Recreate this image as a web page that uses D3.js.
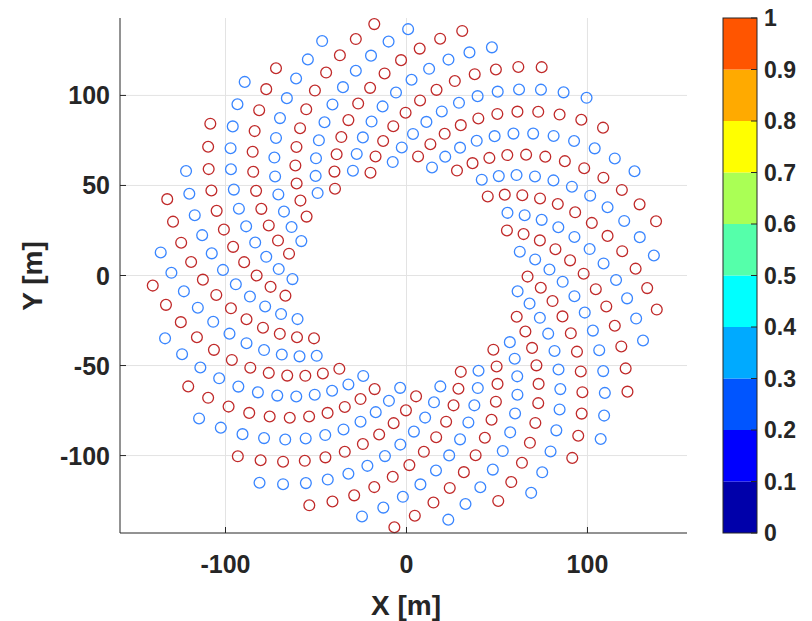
<!DOCTYPE html>
<html><head><meta charset="utf-8">
<script src="https://cdn.jsdelivr.net/npm/d3@7"></script>
<style>body{margin:0;background:#fff}text{font-family:"Liberation Sans",Arial,sans-serif;font-weight:bold;fill:#262626}</style>
</head><body><svg id="c" width="812" height="621"></svg>
<script>
// Field layout positions [m], red series
const redX=[-19.9,55.5,30.0,-51.1,-39.5,44.9,48.0,-37.1,-55.2,27.9,60.9,-17.6,-64.9,6.4,66.9,5.3,-66.9,-17.1,64.7,28.7,-60.5,-39.8,54.3,49.8,-46.2,-58.6,36.5,65.7,-25.4,-71.0,13.2,74.2,-0.3,-75.1,-12.9,73.7,26.0,-70.0,-38.6,64.0,50.3,-55.9,-60.7,45.8,69.4,-34.1,-76.1,21.1,80.7,-7.1,-82.8,-7.3,82.3,21.9,-79.3,-36.0,73.8,49.4,-65.9,-61.4,55.7,71.8,-43.6,-80.2,30.0,86.2,-15.1,-89.7,-0.5,90.4,16.4,-88.4,-32.1,83.6,47.0,-76.1,-60.8,66.1,73.0,-53.8,-83.1,39.7,90.8,-24.1,-95.8,7.5,97.9,9.6,-97.0,-26.7,93.2,43.3,-86.3,-58.8,76.7,72.8,-64.5,-84.7,50.2,94.2,-34.1,-100.9,16.6,104.6,1.6,-105.1,-20.1,102.4,38.2,-96.5,-55.4,87.5,71.2,-75.6,-85.0,61.3,96.3,-44.8,-104.9,26.7,110.4,-7.6,-112.5,-12.1,111.1,31.7,-106.4,-50.6,98.2,68.2,-86.9,-83.9,72.8,97.2,-56.2,-107.8,37.7,115.1,-17.8,-119.0,-3.0,119.2,23.9,-115.8,-44.4,108.8,63.8,-98.3,-81.4,84.6,96.8,-68.2,-109.3,49.4,118.7,-28.9,-124.5,7.3,126.6,14.9,-124.7,-36.8,119.0,57.9,-109.6,-77.5,96.6,94.9,-80.6,-109.6,61.8,121.1,-40.9,-129.0,18.6,133.0,4.6,-132.9,-28.0,128.8,50.7,-120.6,-72.1,108.6,91.6,-93.2,-108.4,74.7,122.1,-53.7,-132.2,30.8,138.3,-6.7,-140.2,-17.8,137.9];
const redY=[57.1,25.0,-53.5,-34.9,48.2,43.9,-41.2,-51.8,32.7,58.3,-22.9,-63.1,12.1,66.1,-0.6,-67.1,-11.2,66.1,23.0,-62.9,-34.3,57.7,44.9,-50.5,-54.4,41.6,62.4,-31.1,-68.6,19.4,72.9,-6.8,-74.9,-6.3,74.7,19.5,-72.1,-32.4,67.3,44.6,-60.2,-55.7,51.1,65.3,-40.2,-73.0,27.8,78.7,-14.2,-82.0,0.0,82.9,14.6,-81.2,-29.0,76.9,42.8,-70.1,-55.6,61.1,66.9,-49.9,-76.3,37.0,83.5,-22.7,-88.3,7.4,90.4,8.4,-89.8,-24.3,86.3,39.7,-80.1,-54.1,71.4,67.1,-60.2,-78.3,47.0,87.2,-32.1,-93.6,15.9,97.2,1.0,-97.9,-18.2,95.5,35.1,-90.1,-51.2,81.8,66.0,-70.9,-79.0,57.6,89.7,-42.3,-97.9,25.5,103.1,-7.6,-105.3,-10.8,104.2,29.2,-99.8,-46.9,92.3,63.5,-81.9,-78.3,68.7,91.0,-53.3,-101.0,35.9,108.0,-17.2,-111.8,-2.3,112.2,22.0,-109.2,-41.3,102.7,59.6,-92.9,-76.3,80.2,90.9,-64.8,-102.9,47.2,111.8,-27.9,-117.5,7.5,119.6,13.5,-118.0,-34.3,112.7,54.3,-104.0,-72.8,91.8,89.4,-76.7,-103.4,59.1,114.4,-39.4,-122.1,18.2,126.0,3.8,-126.1,-25.9,122.3,47.5,-114.7,-67.9,103.5,86.5,-89.0,-102.6,71.5,115.8,-51.6,-125.5,29.9,131.5,-7.0,-133.4,-16.3,131.3,39.5,-125.2,-61.6,115.1,82.1,-101.3,-100.4,84.3,115.7,-64.5,-127.6,42.4,135.8,-18.9,-139.8,-5.6,139.6,30.1];
// blue series
const blueX=[-23.9,-58.1,14.1,61.4,-3.5,-63.0,-7.6,62.6,18.7,-60.2,-29.6,55.8,39.8,-49.6,-49.1,41.6,57.1,-32.1,-63.5,21.4,68.0,-9.7,-70.6,-2.6,71.1,15.2,-69.3,-27.5,65.3,39.4,-59.1,-50.2,51.0,59.8,-41.1,-67.7,29.6,73.7,-17.0,-77.5,3.6,79.0,10.3,-78.1,-24.1,74.7,37.5,-68.9,-50.0,60.8,61.2,-50.7,-70.8,38.8,78.3,-25.4,-83.6,11.0,86.3,4.1,-86.5,-19.3,83.9,34.2,-78.7,-48.4,71.0,61.3,-60.9,-72.6,48.7,81.8,-34.8,-88.6,19.5,92.8,-3.4,-94.3,-13.2,92.8,29.6,-88.4,-45.3,81.2,60.0,-71.4,-73.0,59.1,84.0,-44.9,-92.6,29.0,98.5,-11.9,-101.4,-5.8,101.2,23.6,-97.8,-40.9,91.4,57.3,-82.1,-72.1,70.0,85.0,-55.7,-95.4,39.3,103.0,-21.6,-107.6,2.8,108.9,16.3,-106.8,-35.1,101.5,53.2,-92.9,-69.9,81.3,84.6,-67.0,-97.0,50.4,106.5,-32.1,-112.9,12.5,115.8,7.7,-115.3,-28.0,111.1,47.7,-103.5,-66.1,92.6,82.8,-78.7,-97.2,62.2,108.7,-43.5,-117.0,23.2,121.9,-2.0,-123.0,-19.6,120.3,40.8,-113.9,-61.0,104.0,79.6,-90.6,-96.0,74.3,109.6,-55.6,-120.0,34.8,126.9,-12.8,-129.9,-9.9,128.9,32.6,-124.0,-54.5,115.1,75.0,-102.6,-93.4,86.8,109.2,-68.2,-121.8,47.2,130.7,-24.6,-135.8,0.9,136.7,23.1,-133.4,-46.6,126.0,68.9,-114.6,-89.4,99.5,107.3,-81.2];
const blueY=[-55.8,19.1,60.0,-8.8,-62.4,-2.0,63.0,13.2,-61.6,-24.2,58.2,34.8,-52.9,-44.6,45.8,53.2,-37.0,-60.5,26.9,66.0,-15.6,-69.6,3.6,71.1,8.9,-70.4,-21.4,67.5,33.5,-62.5,-44.9,55.3,55.2,-46.2,-64.0,35.5,71.0,-23.5,-75.9,10.4,78.6,3.3,-78.9,-17.2,76.7,30.9,-72.1,-43.9,65.1,55.8,-56.0,-66.2,45.0,74.8,-32.3,-81.2,18.3,85.3,-3.5,-86.7,-11.7,85.5,26.8,-81.6,-41.4,75.1,55.0,-66.2,-67.2,55.0,77.4,-41.9,-85.5,27.3,91.1,-11.5,-93.9,-4.9,93.9,21.4,-91.0,-37.6,85.1,52.8,-76.6,-66.7,65.5,78.8,-52.2,-88.6,37.1,95.9,-20.6,-100.3,3.1,101.6,14.7,-99.9,-32.3,95.0,49.3,-87.1,-64.9,76.4,78.8,-63.1,-90.5,47.7,99.6,-30.6,-105.7,12.3,108.7,6.7,-108.3,-25.7,104.6,44.3,-97.5,-61.7,87.4,77.5,-74.4,-91.1,59.0,102.1,-41.5,-110.1,22.4,114.8,-2.5,-116.0,-17.9,113.7,37.9,-107.8,-57.1,98.5,74.7,-86.0,-90.3,70.7,103.3,-53.1,-113.3,33.5,119.9,-12.7,-122.9,-8.8,122.1,30.3,-117.6,-51.1,109.4,70.6,-97.7,-88.1,82.8,103.2,-65.2,-115.3,45.4,123.9,-23.9,-128.9,1.5,129.9,21.3,-126.9,-43.7,120.0,65.0,-109.3,-84.5,95.1,101.7,-77.8,-115.9,58.0,126.7,-36.1,-133.8,12.8,136.8,11.1,-135.6,-34.9,130.2,57.9,-120.7,-79.4,107.5,98.7,-90.8,-115.1];
const xTicks=[-100,0,100];
const yTicks=[-100,-50,0,50,100];
const cbTicks=[0,0.1,0.2,0.3,0.4,0.5,0.6,0.7,0.8,0.9,1];
const cbColors=["#0000aa","#0000ff","#0055ff","#00aaff","#00ffff","#55ffaa","#aaff55","#ffff00","#ffaa00","#ff5500"];

const series=[
  {x:redX,y:redY,color:"#c02a2a"},
  {x:blueX,y:blueY,color:"#3a86ff"}
];
const svg=d3.select("#c");
const x=d3.scaleLinear().domain([-158.3,155]).range([120,687]);
const y=d3.scaleLinear().domain([-143,143]).range([533,18]);
const g=svg.append("g");
g.selectAll(".gx").data(xTicks).join("line").attr("x1",d=>x(d)).attr("x2",d=>x(d)).attr("y1",18).attr("y2",533).attr("stroke","#e3e3e3");
g.selectAll(".gy").data(yTicks).join("line").attr("y1",d=>y(d)).attr("y2",d=>y(d)).attr("x1",120).attr("x2",687).attr("stroke","#e3e3e3");
series.forEach(s=>{
  svg.append("g").selectAll("circle").data(s.x.map((v,i)=>[v,s.y[i]])).join("circle")
    .attr("cx",d=>x(d[0])).attr("cy",d=>y(d[1])).attr("r",5.4)
    .attr("fill","none").attr("stroke",s.color).attr("stroke-width",1.3);
});
svg.append("line").attr("x1",120).attr("x2",120).attr("y1",18).attr("y2",533).attr("stroke","#262626");
svg.append("line").attr("x1",120).attr("x2",687).attr("y1",533).attr("y2",533).attr("stroke","#262626");
svg.selectAll(".tx").data(xTicks).join("line").attr("x1",d=>x(d)).attr("x2",d=>x(d)).attr("y1",533).attr("y2",527).attr("stroke","#262626");
svg.selectAll(".ty").data(yTicks).join("line").attr("y1",d=>y(d)).attr("y2",d=>y(d)).attr("x1",120).attr("x2",126).attr("stroke","#262626");
svg.selectAll(".lx").data(xTicks).join("text").attr("x",d=>x(d)).attr("y",573).attr("text-anchor","middle").attr("font-size",25).text(d=>d);
svg.selectAll(".ly").data(yTicks).join("text").attr("x",110).attr("y",d=>y(d)+9).attr("text-anchor","end").attr("font-size",25).text(d=>d);
svg.append("text").attr("x",406).attr("y",615).attr("text-anchor","middle").attr("font-size",28).text("X [m]");
svg.append("text").attr("transform","translate(42,276) rotate(-90)").attr("text-anchor","middle").attr("font-size",28).text("Y [m]");
const cy=d3.scaleLinear().domain([0,1]).range([533,18]);
svg.selectAll(".cb").data(cbColors).join("rect").attr("x",723).attr("width",34).attr("y",(d,i)=>cy((i+1)/10)).attr("height",(d,i)=>cy(i/10)-cy((i+1)/10)).attr("fill",d=>d);
svg.append("rect").attr("x",723).attr("y",18).attr("width",34).attr("height",515).attr("fill","none").attr("stroke","#262626");
svg.selectAll(".ct").data(cbTicks).join("line").attr("x1",751).attr("x2",757).attr("y1",d=>cy(d)).attr("y2",d=>cy(d)).attr("stroke","#262626");
svg.selectAll(".cl").data(cbTicks).join("text").attr("x",764).attr("y",d=>cy(d)+8).attr("font-size",23).text(d=>d);
</script></body></html>
